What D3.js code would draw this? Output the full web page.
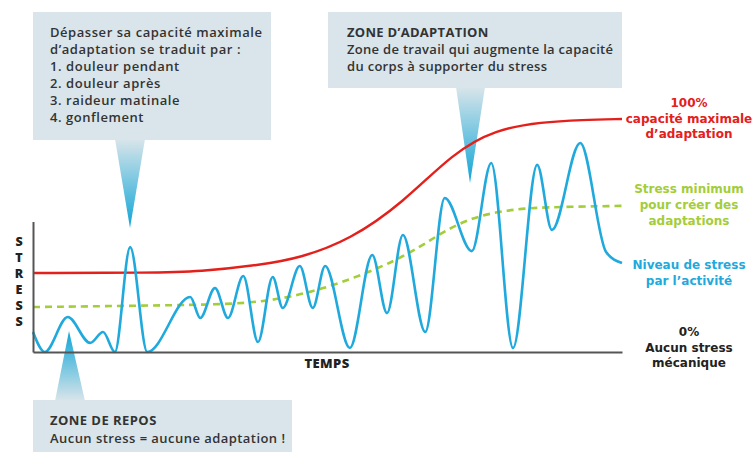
<!DOCTYPE html>
<html><head><meta charset="utf-8">
<script src="https://cdn.jsdelivr.net/npm/d3@7"></script>
<style>
html,body{margin:0;padding:0;background:#fff;}
svg{display:block;font-family:"Open Sans",sans-serif;}
</style></head>
<body><svg id="c" width="755" height="452"></svg>
<script>
// ---- data (time 0..100, stress 0..100 %) ----
const stressTime  = [0, 2.0, 5.9, 9.7, 11.9, 13.9, 16.5, 19.4, 26.7, 28.4, 30.9, 33.1, 35.7, 38.2, 40.7, 42.4, 45.3, 47.5, 49.6, 53.8, 57.6, 60.1, 62.8, 66.6, 69.9, 74.5, 77.8, 81.5, 85.6, 88.1, 92.9, 97.3, 100];
const stressLevel = [8.6, 0, 15, 3.9, 8.6, 0, 45, 0, 23.6, 14.6, 27.5, 14.6, 32.6, 4.3, 32.2, 18.9, 36.9, 18.9, 36.9, 1.7, 41.6, 16.7, 50.2, 8.6, 66.1, 43.3, 81.1, 1.7, 80.3, 52.4, 89.7, 42.9, 38.2];
const capTime  = [0, 20, 28.4, 38.5, 45.3, 53.8, 62.8, 71.3, 78.5, 86.4, 93.2, 100];
const capLevel = [33.9, 34.0, 34.5, 37.3, 40.3, 48.1, 64, 85.4, 95.5, 98.7, 99.6, 100];
const minTime  = [0, 30, 38.5, 48.4, 62.5, 69.4, 74.7, 80.5, 86.1, 100];
const minLevel = [19.3, 20.2, 21.2, 25.8, 39.5, 51.5, 57.9, 60.9, 62.2, 62.7];
const axisTop = 56; // top of the stress axis
const labelsCap = ["100%", "capacité maximale", "d\u2019adaptation"];
const labelsMin = ["Stress minimum", "pour créer des", "adaptations"];
const labelsAct = ["Niveau de stress", "par l\u2019activité"];
const labelsZero = ["0%", "Aucun stress", "mécanique"];
const box1 = ["Dépasser sa capacité maximale", "d\u2019adaptation se traduit par :", "1.  douleur pendant", "2. douleur après", "3. raideur matinale", "4. gonflement"];
const box2 = ["ZONE D\u2019ADAPTATION", "Zone de travail qui augmente la capacité", "du corps à supporter du stress"];
const box3 = ["ZONE DE REPOS", "Aucun stress = aucune adaptation !"];

const svg = d3.select("#c");
const x = d3.scaleLinear([0, 100], [33, 622]);
const y = d3.scaleLinear([0, 100], [352, 119]);

const RED = "#e3201b", BLUE = "#1fa9dc", GREEN = "#a3cd39", BOX = "#d9e5ea", TXT = "#333333";

const defs = svg.append("defs");
function grad(id, topColor, botColor) {
  const g = defs.append("linearGradient").attr("id", id).attr("x1", 0).attr("x2", 0).attr("y1", 0).attr("y2", 1);
  g.append("stop").attr("offset", "0%").attr("stop-color", topColor);
  g.append("stop").attr("offset", "100%").attr("stop-color", botColor);
}
grad("gDown", BOX, "#0fa5d6");
grad("gUp", "#0fa5d6", BOX);

// ---- callout boxes ----
function callout(bx, by, bw, bh, tri, gradId) {
  svg.append("path")
    .attr("d", `M${tri[0]},${tri[1]}L${tri[2]},${tri[3]}L${tri[4]},${tri[5]}Z`)
    .attr("fill", `url(#${gradId})`);
  svg.append("rect").attr("x", bx).attr("y", by).attr("width", bw).attr("height", bh).attr("fill", BOX);
}
callout(33, 12, 238, 128, [115, 139, 145, 139, 130, 228], "gDown");
callout(328, 12, 294, 76, [456, 87, 485, 87, 470, 183], "gDown");
callout(33, 400, 259, 52, [55, 401, 85, 401, 69, 331], "gUp");

function textBlock(lines, tx, ty, dy, opts) {
  const t = svg.append("text").attr("x", tx).attr("y", ty)
    .attr("fill", opts.color).attr("font-size", opts.size).attr("text-anchor", opts.anchor || "start")
    .attr("letter-spacing", opts.ls || 0);
  if (opts.family) t.attr("font-family", opts.family);
  lines.forEach((l, i) => {
    t.append("tspan").attr("x", tx).attr("y", ty + i * dy).text(l)
      .attr("font-weight", (opts.boldFirst && i === 0) ? 700 : opts.weight);
  });
  return t;
}
textBlock(box1, 50, 37, 17, {color: TXT, size: 13, weight: 600, ls: 0.55});
textBlock(box2, 347, 37, 17, {color: TXT, size: 13, weight: 600, ls: 0.3, boldFirst: true});
textBlock(box3, 50, 425, 18, {color: TXT, size: 13, weight: 600, ls: 0.45, boldFirst: true});

// ---- lines ----
const lineGen = d3.line().x(d => x(d[0])).y(d => y(d[1])).curve(d3.curveMonotoneX);
const smoothGen = d3.line().x(d => x(d[0])).y(d => y(d[1])).curve(d3.curveBasis);
const capData = d3.zip(capTime, capLevel);
const minData = d3.zip(minTime, minLevel);
const actData = d3.zip(stressTime, stressLevel);

svg.append("path").datum(minData).attr("d", smoothGen).attr("fill", "none")
  .attr("stroke", GREEN).attr("stroke-width", 2.6).attr("stroke-dasharray", "7,5");
svg.append("path").datum(capData).attr("d", smoothGen).attr("fill", "none")
  .attr("stroke", RED).attr("stroke-width", 2.4);
svg.append("path").datum(actData).attr("d", lineGen).attr("fill", "none")
  .attr("stroke", BLUE).attr("stroke-width", 2.6).attr("stroke-linejoin", "round");

// ---- axes ----
const xAxis = d3.axisBottom(x).tickValues([]).tickSizeOuter(0);
const yAxis = d3.axisLeft(d3.scaleLinear([0, axisTop], [y(0), y(axisTop)])).tickValues([]).tickSizeOuter(0);
svg.append("g").attr("transform", `translate(0,${y(0)})`).call(xAxis)
  .select(".domain").attr("stroke", "#555").attr("stroke-width", 2);
svg.append("g").attr("transform", `translate(${x(0)},0)`).call(yAxis)
  .select(".domain").attr("stroke", "#555").attr("stroke-width", 2);

svg.append("text").attr("x", 327).attr("y", 368).attr("text-anchor", "middle")
  .attr("font-size", 13).attr("font-weight", 800).attr("letter-spacing", 0.4).attr("fill", "#222").text("TEMPS");
"STRESS".split("").forEach((ch, i) => {
  svg.append("text").attr("x", 19).attr("y", 246 + i * 16).attr("text-anchor", "middle")
    .attr("font-size", 12.5).attr("font-weight", 800).attr("fill", "#222").text(ch);
});

// ---- right labels ----
const lx = 689;
const rl = {size: 12, weight: 700, anchor: "middle", family: "'DejaVu Sans', sans-serif"};
textBlock(labelsCap, lx, 107, 15.5, Object.assign({color: RED}, rl));
textBlock(labelsMin, lx, 193, 16, Object.assign({color: GREEN}, rl));
textBlock(labelsAct, lx, 269, 16, Object.assign({color: BLUE}, rl));
textBlock(labelsZero, lx, 336, 15.5, Object.assign({color: "#222"}, rl));
</script>
</body></html>
